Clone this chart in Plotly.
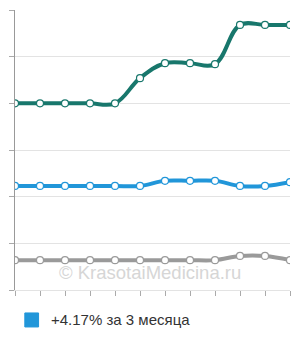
import plotly.graph_objects as go

x_idx = list(range(12))
green_vals = [4.0, 4.0, 4.0, 4.0, 4.0, 4.54, 4.86, 4.86, 4.84, 5.68, 5.68, 5.68]
blue_vals = [2.23, 2.23, 2.23, 2.23, 2.23, 2.23, 2.34, 2.34, 2.34, 2.23, 2.23, 2.31]
grey_vals = [0.64, 0.64, 0.64, 0.64, 0.64, 0.64, 0.64, 0.64, 0.64, 0.73, 0.73, 0.64]
legend_label = "+4.17% за 3 месяца"
watermark = "© KrasotaiMedicina.ru"

GREEN = "#18776c"
BLUE = "#2196d9"
GREY = "#9a9a9a"
FONT = "Liberation Sans, Arial"

fig = go.Figure()

def add_series(vals, color):
    fig.add_trace(go.Scatter(
        x=x_idx, y=vals, mode="lines+markers",
        line=dict(color=color, width=4, shape="spline", smoothing=1.1),
        marker=dict(size=7, color="white", line=dict(color=color, width=1.2)),
        showlegend=False, hoverinfo="skip",
    ))

add_series(grey_vals, GREY)
add_series(blue_vals, BLUE)
add_series(green_vals, GREEN)

# watermark
fig.add_annotation(
    text=watermark, x=0.49, y=0.064, xref="paper", yref="paper",
    xanchor="center", yanchor="middle",
    showarrow=False, font=dict(family=FONT, size=18.5, color="#d6d6d6"),
)

# legend (drawn manually: square + label)
fig.add_shape(
    type="rect", xref="paper", yref="paper",
    x0=0.0357, x1=0.0857, y0=-0.132, y1=-0.082,
    fillcolor=BLUE, line=dict(color=BLUE, width=1),
)
fig.add_annotation(
    text=legend_label, x=0.125, y=-0.107, xref="paper", yref="paper",
    xanchor="left", yanchor="middle", showarrow=False,
    font=dict(family=FONT, size=15, color="#333333"),
)

fig.update_layout(
    width=300, height=340,
    margin=dict(l=10, r=10, t=10, b=50),
    paper_bgcolor="white", plot_bgcolor="white",
    font=dict(family=FONT, size=14, color="#333333"),
    showlegend=False,
    xaxis=dict(range=[0, 11], tickvals=x_idx, showticklabels=False, ticks="outside",
               ticklen=5, tickcolor="#aaaaaa", showgrid=False, zeroline=False,
               showline=True, linecolor="#e3e3e3", linewidth=1, fixedrange=True),
    yaxis=dict(range=[0, 6], tickvals=[0, 1, 2, 3, 4, 5, 6], showticklabels=False,
               ticks="outside", ticklen=5, tickcolor="#aaaaaa", showgrid=True,
               gridcolor="#e3e3e3", gridwidth=1, zeroline=False, showline=True,
               linecolor="#999999", linewidth=1, fixedrange=True),
)

fig.write_html("out.html", config={"displayModeBar": False})
